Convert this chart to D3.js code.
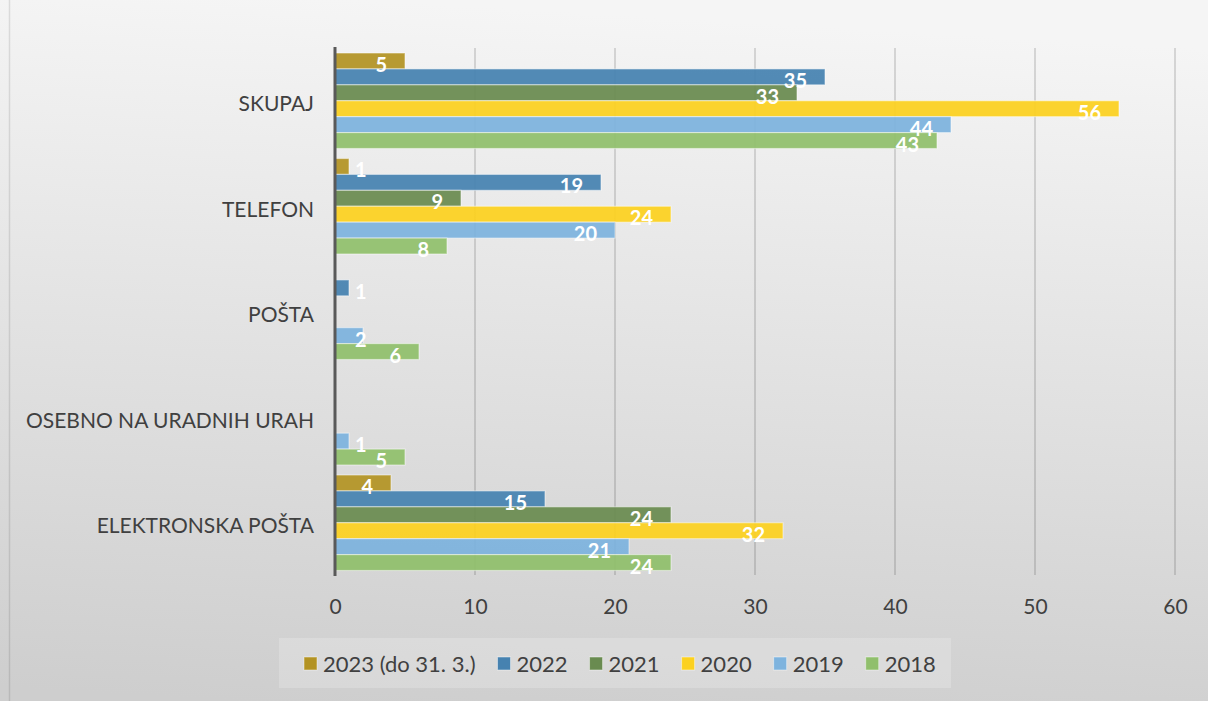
<!DOCTYPE html>
<html>
<head>
<meta charset="utf-8">
<script src="https://cdn.jsdelivr.net/npm/d3@7"></script>
<style>
  html, body { margin: 0; padding: 0; background: #fff; }
  svg { display: block; font-family: Lato, "Open Sans", sans-serif; }
</style>
</head>
<body>
<div id="chart"></div>
<script>
const categories = ["SKUPAJ", "TELEFON", "POŠTA", "OSEBNO NA URADNIH URAH", "ELEKTRONSKA POŠTA"]
const seriesNames = ["2023 (do 31. 3.)", "2022", "2021", "2020", "2019", "2018"]
const seriesColors = ["#b39323", "#4682b0", "#698b50", "#fcd11f", "#7db3de", "#90bf6c"]
// values per series, in category order (null = no bar)
const v2023 = [5, 1, null, null, 4]
const v2022 = [35, 19, 1, null, 15]
const v2021 = [33, 9, null, null, 24]
const v2020 = [56, 24, null, null, 32]
const v2019 = [44, 20, 2, 1, 21]
const v2018 = [43, 8, 6, 5, 24]
const xTicks = [0, 10, 20, 30, 40, 50, 60]

const seriesValues = [v2023, v2022, v2021, v2020, v2019, v2018]

const width = 1208
const height = 701
const margin = { top: 48, right: 33, bottom: 126, left: 335 }

const svg = d3.select("#chart")
  .append("svg")
  .attr("width", width)
  .attr("height", height)

const defs = svg.append("defs")
const grad = defs.append("linearGradient")
  .attr("id", "bg").attr("x1", "0.3").attr("y1", "0").attr("x2", "0.2").attr("y2", "1")
grad.append("stop").attr("offset", "0").attr("stop-color", "#f5f5f5")
grad.append("stop").attr("offset", "1").attr("stop-color", "#cecece")

svg.append("rect")
  .attr("width", width).attr("height", height)
  .attr("fill", "url(#bg)")

// left border of the chart frame
svg.append("line")
  .attr("x1", 9.5).attr("x2", 9.5).attr("y1", 0).attr("y2", height)
  .attr("stroke", "#000").attr("stroke-opacity", 0.1).attr("stroke-width", 1.5)

const xScale = d3.scaleLinear()
  .domain([0, 60])
  .range([margin.left, width - margin.right])

const yScale = d3.scaleBand()
  .domain(categories)
  .range([margin.top, height - margin.bottom + 0.5])

const inner = d3.scaleBand()
  .domain(seriesNames)
  .range([5, yScale.bandwidth() - 5])

// gridlines
svg.append("g")
  .selectAll("line")
  .data(xTicks.slice(1))
  .enter()
  .append("line")
  .attr("x1", d => xScale(d)).attr("x2", d => xScale(d))
  .attr("y1", margin.top).attr("y2", height - margin.bottom)
  .attr("stroke", "#000").attr("stroke-opacity", 0.13).attr("stroke-width", 2)

// x axis labels
const xAxis = d3.axisBottom(xScale).tickValues(xTicks).tickSize(0).tickPadding(24)
const xg = svg.append("g")
  .attr("transform", `translate(0,${height - margin.bottom})`)
  .call(xAxis)
xg.select(".domain").remove()
xg.selectAll("text")
  .attr("font-size", "21px")
  .attr("font-family", "Lato, 'Open Sans', sans-serif")
  .attr("fill", "#404040")

// bars
const barGroup = svg.append("g")
seriesNames.forEach((name, si) => {
  categories.forEach((cat, ci) => {
    const v = seriesValues[si][ci]
    if (v == null) return
    const y = yScale(cat) + inner(name)
    barGroup.append("rect")
      .attr("x", xScale(0))
      .attr("y", y)
      .attr("width", xScale(v) - xScale(0))
      .attr("height", inner.bandwidth())
      .attr("fill", seriesColors[si])
      .attr("fill-opacity", 0.93)
      .attr("stroke", "#fff")
      .attr("stroke-opacity", 0.45)
      .attr("stroke-width", 1.2)
  })
})

// data labels
const labelGroup = svg.append("g")
seriesNames.forEach((name, si) => {
  categories.forEach((cat, ci) => {
    const v = seriesValues[si][ci]
    if (v == null) return
    const y = yScale(cat) + inner(name) + inner.bandwidth() + 3
    const t = labelGroup.append("text")
      .attr("y", y)
      .attr("text-anchor", "end")
      .attr("font-size", "20px")
      .attr("font-weight", "bold")
      .attr("fill", "#fff")
      .text(v)
    const w = t.node().getComputedTextLength()
    t.attr("x", Math.max(xScale(v) - 18, xScale(0) + 20 + w))
  })
})

// category labels
svg.append("g")
  .selectAll("text")
  .data(categories)
  .enter()
  .append("text")
  .attr("x", margin.left - 21)
  .attr("y", d => yScale(d) + yScale.bandwidth() / 2 + 3)
  .attr("dy", "0.35em")
  .attr("text-anchor", "end")
  .attr("font-size", "21px")
  .attr("fill", "#404040")
  .text(d => d)

// vertical axis line
svg.append("line")
  .attr("x1", xScale(0)).attr("x2", xScale(0))
  .attr("y1", margin.top - 1).attr("y2", height - margin.bottom + 1)
  .attr("stroke", "#595959").attr("stroke-width", 3)

// legend
const legend = svg.append("g")
legend.append("rect")
  .attr("x", 279).attr("y", 638).attr("width", 672).attr("height", 50)
  .attr("fill", "#fff").attr("fill-opacity", 0.2)

let lx = 304
seriesNames.forEach((name, si) => {
  legend.append("rect")
    .attr("x", lx).attr("y", 657).attr("width", 13).attr("height", 13)
    .attr("fill", seriesColors[si])
    .attr("stroke", "#fff").attr("stroke-opacity", 0.45)
  const t = legend.append("text")
    .attr("x", lx + 19).attr("y", 672)
    .attr("font-size", "22px")
    .attr("fill", "#404040")
    .text(name)
  lx += 19 + t.node().getComputedTextLength() + 22
})
</script>
</body>
</html>
